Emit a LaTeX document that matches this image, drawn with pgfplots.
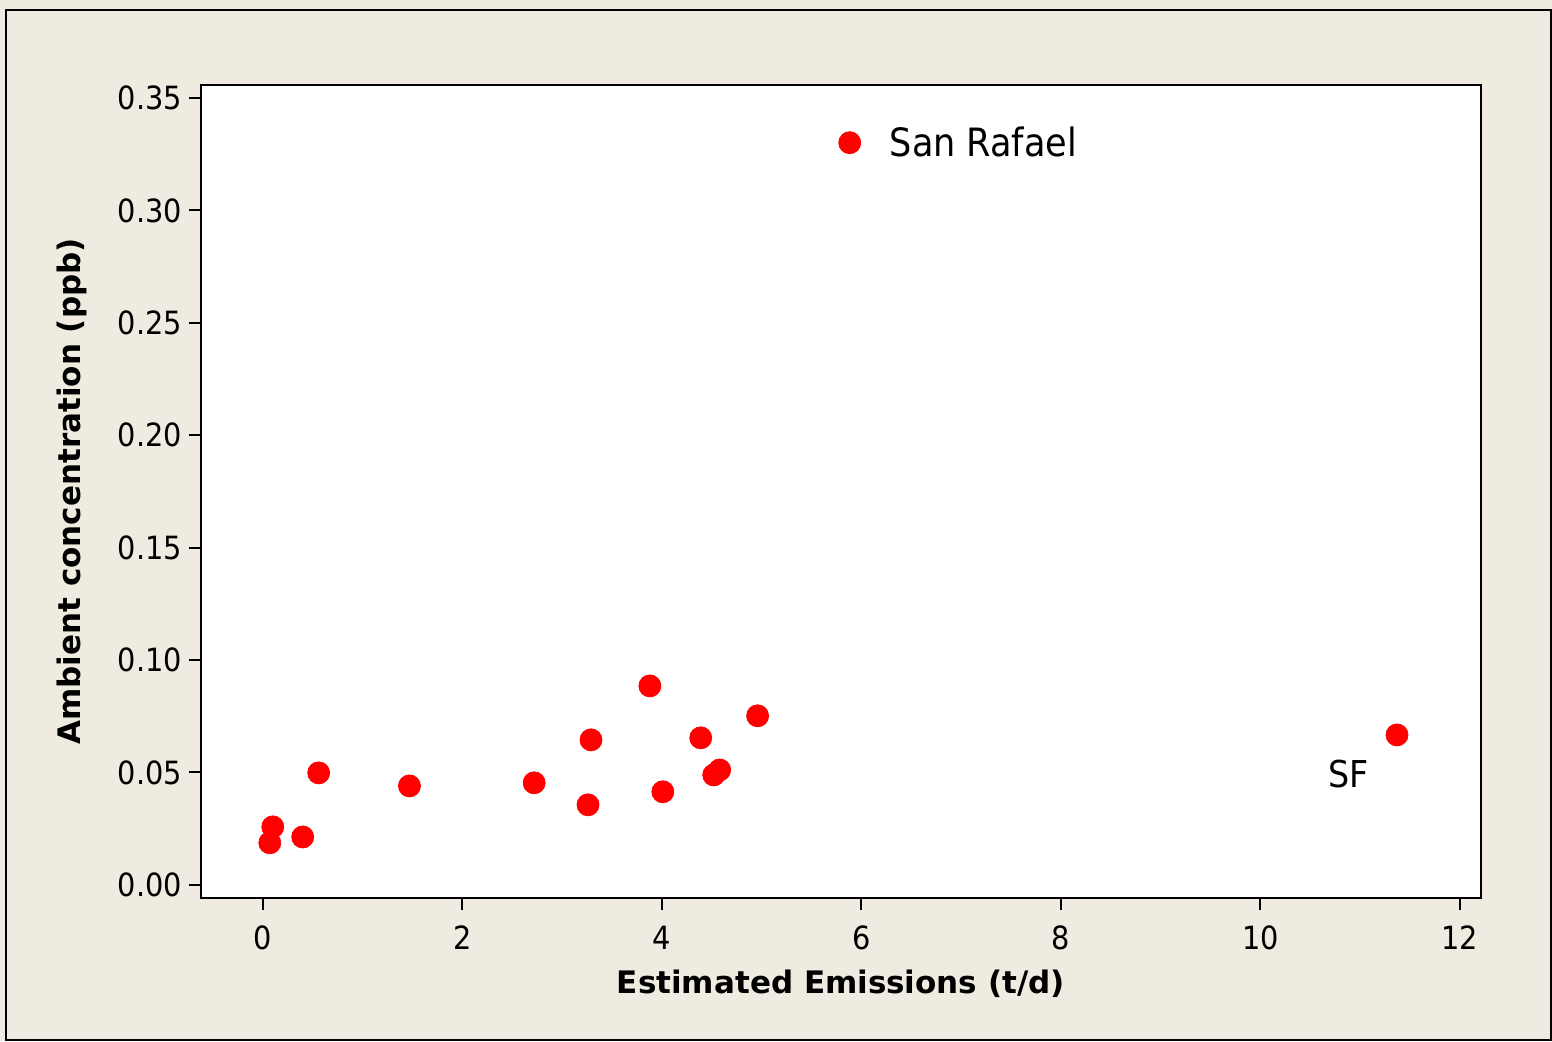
\documentclass[border=0pt]{standalone}
\usepackage{pgfplots}
\pgfplotsset{compat=1.18}
\usepackage{fontspec}
\setmainfont{DejaVu Sans Condensed}
\newfontfamily\widefont{DejaVu Sans}
\definecolor{bgc}{RGB}{240,235,224}
\begin{document}
\begin{tikzpicture}
\fill[bgc] (0pt,0pt) rectangle (776pt,520.5pt);
\draw[line width=1.2pt] (3pt,0.5pt) rectangle (775.5pt,515.5pt);
\begin{axis}[
  at={(100.5pt,71.5pt)}, anchor=south west,
  scale only axis, width=640pt, height=406.5pt,
  xmin=-0.62, xmax=12.21, ymin=-0.0058, ymax=0.3558,
  axis background/.style={fill=white},
  axis line style={line width=1.2pt},
  xtick={0,2,...,12}, ytick={0,0.05,...,0.35},
  yticklabel style={/pgf/number format/.cd,fixed,fixed zerofill,precision=2},
  xticklabel style={yshift=-4.5pt},
  /pgf/number format/assume math mode=true,
  tick align=outside, tick pos=left,
  major tick length=6pt,
  tick style={line width=1pt, black},
  ticklabel style={font=\fontsize{16}{18}\selectfont},
  xlabel={\widefont\bfseries Estimated Emissions (t/d)},
  ylabel={\widefont\bfseries Ambient concentration (ppb)},
  label style={font=\fontsize{15.5}{18}\selectfont},
  xlabel style={yshift=-3pt},
  ylabel style={yshift=8.5pt},
  legend style={draw=none, fill=none, at={(0.498,0.929)}, anchor=west,
    font=\fontsize{19.5}{22}\selectfont, inner sep=0pt},
  legend cell align=left,
]
\addplot[only marks, mark=*, mark size=5.5pt, color=red] coordinates {
(0.07,0.0187) (0.10,0.0258) (0.40,0.0213) (0.56,0.0498) (1.47,0.0440)
(2.72,0.0454) (3.26,0.0356) (3.29,0.0645) (3.88,0.0885) (4.01,0.0414)
(4.39,0.0654) (4.52,0.0489) (4.58,0.0511) (4.96,0.0752) (11.37,0.0667)
};
\addlegendentry{\hspace{12.5pt}San Rafael}
\node[font=\fontsize{18.5}{22}\selectfont] at (axis cs:10.88,0.0494) {SF};
\end{axis}
\end{tikzpicture}
\end{document}
